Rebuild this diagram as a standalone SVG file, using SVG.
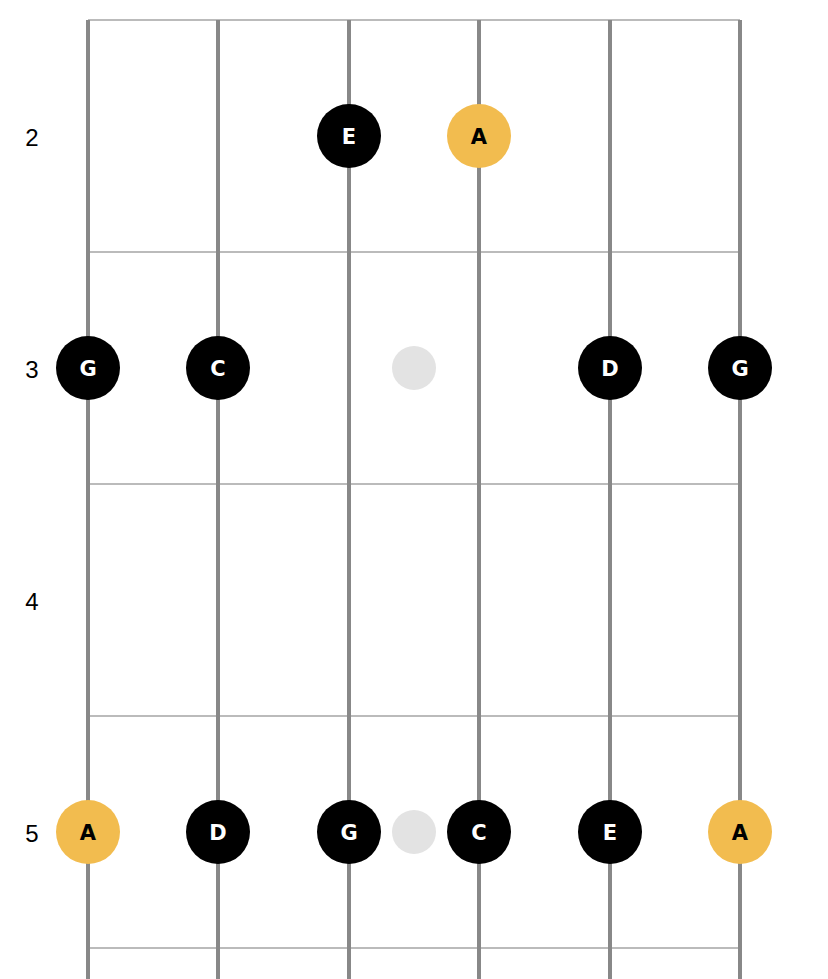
<svg xmlns="http://www.w3.org/2000/svg" width="828" height="979" viewBox="0 0 828 979">
<style>
.fret{stroke:#bbbbbb;stroke-width:2}
.str{stroke:#888888;stroke-width:4}
.lbl{font-family:"Liberation Sans",Arial,sans-serif;font-size:24px;fill:#000;text-anchor:middle;dominant-baseline:central}
.blk circle{fill:#000}
.yel circle{fill:#f2bc4f}
.note text{font-family:"DejaVu Sans","Liberation Sans",sans-serif;font-weight:bold;font-size:21px;text-anchor:middle;dominant-baseline:central}
.blk text{fill:#fff}
.yel text{fill:#000}
.mark{fill:#e3e3e3}
</style>
<rect width="828" height="979" fill="#fff"/>
<g id="frets">
<line class="fret" x1="88" y1="20" x2="740" y2="20"/>
<line class="fret" x1="88" y1="252" x2="740" y2="252"/>
<line class="fret" x1="88" y1="484" x2="740" y2="484"/>
<line class="fret" x1="88" y1="716" x2="740" y2="716"/>
<line class="fret" x1="88" y1="948" x2="740" y2="948"/>
</g>
<g id="strings">
<line class="str" x1="88" y1="20" x2="88" y2="979"/>
<line class="str" x1="218" y1="20" x2="218" y2="979"/>
<line class="str" x1="349" y1="20" x2="349" y2="979"/>
<line class="str" x1="479" y1="20" x2="479" y2="979"/>
<line class="str" x1="610" y1="20" x2="610" y2="979"/>
<line class="str" x1="740" y1="20" x2="740" y2="979"/>
</g>
<g id="labels">
<text class="lbl" x="32" y="137">2</text>
<text class="lbl" x="32" y="369">3</text>
<text class="lbl" x="32" y="601">4</text>
<text class="lbl" x="32" y="833">5</text>
</g>
<g id="markers">
<circle class="mark" cx="414" cy="368" r="22"/>
<circle class="mark" cx="414" cy="832" r="22"/>
</g>
<g id="n2E" class="note blk"><circle cx="349" cy="136" r="32"/><text x="349" y="137">E</text></g>
<g id="n2A" class="note yel"><circle cx="479" cy="136" r="32"/><text x="479" y="137">A</text></g>
<g id="n3G1" class="note blk"><circle cx="88" cy="368" r="32"/><text x="88" y="369">G</text></g>
<g id="n3C" class="note blk"><circle cx="218" cy="368" r="32"/><text x="218" y="369">C</text></g>
<g id="n3D" class="note blk"><circle cx="610" cy="368" r="32"/><text x="610" y="369">D</text></g>
<g id="n3G2" class="note blk"><circle cx="740" cy="368" r="32"/><text x="740" y="369">G</text></g>
<g id="n5A1" class="note yel"><circle cx="88" cy="832" r="32"/><text x="88" y="833">A</text></g>
<g id="n5D" class="note blk"><circle cx="218" cy="832" r="32"/><text x="218" y="833">D</text></g>
<g id="n5G" class="note blk"><circle cx="349" cy="832" r="32"/><text x="349" y="833">G</text></g>
<g id="n5C" class="note blk"><circle cx="479" cy="832" r="32"/><text x="479" y="833">C</text></g>
<g id="n5E" class="note blk"><circle cx="610" cy="832" r="32"/><text x="610" y="833">E</text></g>
<g id="n5A2" class="note yel"><circle cx="740" cy="832" r="32"/><text x="740" y="833">A</text></g>
</svg>
